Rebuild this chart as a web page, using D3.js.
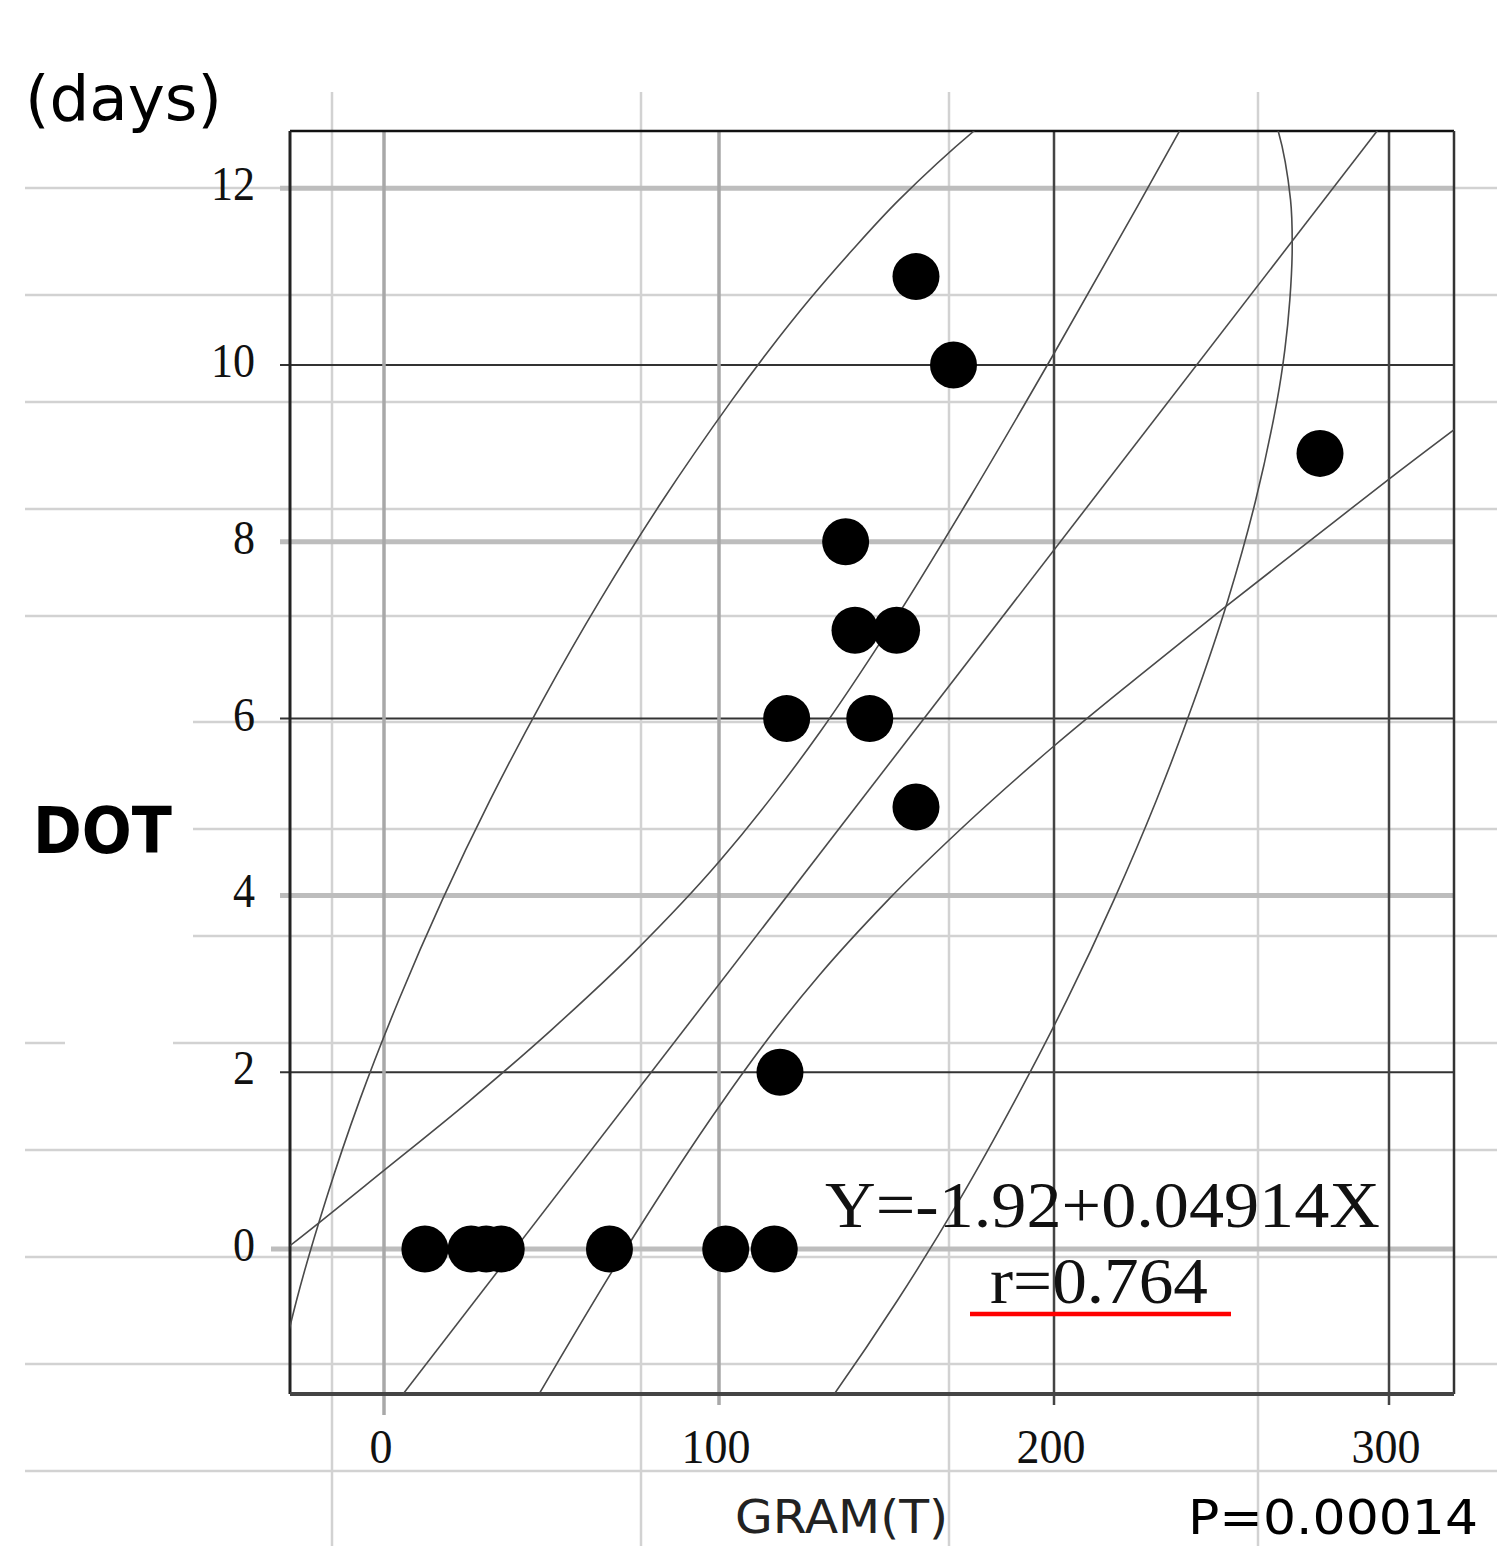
<!DOCTYPE html>
<html>
<head>
<meta charset="utf-8">
<script src="https://cdn.jsdelivr.net/npm/d3@7"></script>
<style>
  html, body { margin: 0; padding: 0; background: #fff; }
  svg { display: block; }
</style>
</head>
<body>
<svg id="chart" width="1497" height="1546"></svg>
<script>
// values
const xTicks = [0, 100, 200, 300];
const yTicks = [0, 2, 4, 6, 8, 10, 12];
const gram = [12.2, 26, 30.5, 35, 67.3, 102, 116.5, 118.2, 120.2, 145, 158.8, 140.6, 153, 137.8, 279.4, 170, 158.8];
const dot  = [0, 0, 0, 0, 0, 0, 0, 2, 6, 6, 5, 7, 7, 8, 9, 10, 11];
const fit = [-1.92, 0.04914];   // intercept, slope
const rValue = 0.764;
const pValue = "0.00014";

// confidence band of the fitted line (traced)
const bandX     = [-40, -28, 0, 25, 50, 75, 100, 116.3, 130, 150, 175, 200, 225, 250, 275, 300, 330];
const bandUpper = [-0.31, 0.04, 0.89, 1.66, 2.48, 3.37, 4.38, 5.14, 5.84, 6.97, 8.51, 10.13, 11.80, 13.50, 15.21, 16.94, 19.02];
const bandLower = [-7.46, -6.63, -4.73, -3.05, -1.40, 0.17, 1.61, 2.46, 3.10, 3.93, 4.85, 5.69, 6.47, 7.23, 7.97, 8.71, 9.57];

// ellipse (traced), two arcs sharing the same Y samples
const ellY      = [13.0, 12.65, 11.87, 11.30, 10.74, 10.17, 9.60, 8.47, 7.34, 6.21, 5.08, 3.95, 2.82, 1.69, 0.55, -0.58, -1.71, -2.27];
const ellRightX = [263.2, 266.9, 270.6, 271.1, 270.4, 268.9, 266.6, 260.2, 251.9, 241.9, 230.6, 217.9, 203.9, 188.5, 171.7, 153.3, 133.1, 122.1];
const ellLeftX  = [188.2, 176.2, 153.8, 139.8, 127.0, 115.0, 103.8, 83.2, 64.5, 47.4, 31.7, 17.4, 4.45, -7.2, -17.4, -26.1, -32.9, -35.4];

const svg = d3.select("#chart");
const W = 1497, H = 1546;
const plot = {left: 290, right: 1454, top: 131, bottom: 1394};

const x = d3.scaleLinear().domain([-28.06, 319.40]).range([plot.left, plot.right]);
const y = d3.scaleLinear().domain([-1.64, 12.647]).range([plot.bottom, plot.top]);

// spreadsheet grid behind the pasted chart
const pageRows = [188, 295, 402, 509, 616, 722, 829, 936, 1043, 1150, 1257, 1364, 1471];
const pageCols = [332, 641, 949, 1258];
const page = svg.append("g").attr("stroke", "#d2d2d2").attr("stroke-width", 2.5);
pageRows.forEach(r => {
  let segs = [[25, W]];
  if (r === 722 || r === 829 || r === 936) segs = [[193, W]];
  if (r === 1043) segs = [[25, 65], [173, W]];
  segs.forEach(s => page.append("line").attr("x1", s[0]).attr("x2", s[1]).attr("y1", r).attr("y2", r));
});
pageCols.forEach(c => page.append("line").attr("x1", c).attr("x2", c).attr("y1", 92).attr("y2", H));

// chart grid
const grid = svg.append("g");
grid.selectAll("line.h")
  .data(yTicks)
  .join("line")
  .attr("class", "h")
  .attr("x1", d => d === 0 ? 271 : 280)
  .attr("x2", plot.right)
  .attr("y1", d => y(d)).attr("y2", d => y(d))
  .attr("stroke", d => d % 4 === 0 ? "#bdbdbd" : "#333")
  .attr("stroke-width", d => d % 4 === 0 ? 5 : 2);

grid.selectAll("line.v")
  .data(xTicks)
  .join("line")
  .attr("class", "v")
  .attr("x1", d => x(d)).attr("x2", d => x(d))
  .attr("y1", plot.top)
  .attr("y2", d => d === 0 ? 1415 : 1405)
  .attr("stroke", d => d < 200 ? "#a8a8a8" : "#444")
  .attr("stroke-width", d => d < 200 ? 3.5 : 2.5);

// frame
svg.append("line").attr("x1", plot.left).attr("x2", plot.right).attr("y1", plot.top).attr("y2", plot.top)
  .attr("stroke", "#111").attr("stroke-width", 2.5);
svg.append("line").attr("x1", plot.left).attr("x2", plot.left).attr("y1", plot.top).attr("y2", plot.bottom)
  .attr("stroke", "#222").attr("stroke-width", 3);
svg.append("line").attr("x1", plot.right).attr("x2", plot.right).attr("y1", plot.top).attr("y2", plot.bottom)
  .attr("stroke", "#333").attr("stroke-width", 2.5);
svg.append("line").attr("x1", plot.left).attr("x2", plot.right).attr("y1", plot.bottom).attr("y2", plot.bottom)
  .attr("stroke", "#444").attr("stroke-width", 4);

// clip for the curves
svg.append("clipPath").attr("id", "clip")
  .append("rect")
  .attr("x", plot.left).attr("y", plot.top)
  .attr("width", plot.right - plot.left).attr("height", plot.bottom - plot.top);

const curves = svg.append("g").attr("clip-path", "url(#clip)")
  .attr("fill", "none").attr("stroke", "#4a4a4a").attr("stroke-width", 1.6);

const bandLine = d3.line().curve(d3.curveMonotoneX).x(d => x(d[0])).y(d => y(d[1]));
curves.append("path").attr("d", bandLine(bandX.map((v, i) => [v, bandUpper[i]])));
curves.append("path").attr("d", bandLine(bandX.map((v, i) => [v, bandLower[i]])));

// fitted line
const xDom = x.domain();
curves.append("path").attr("d", bandLine(xDom.map(v => [v, fit[0] + fit[1] * v])));

const ellLine = d3.line().curve(d3.curveCatmullRom).x(d => x(d[0])).y(d => y(d[1]));
curves.append("path").attr("d", ellLine(ellY.map((v, i) => [ellRightX[i], v])));
curves.append("path").attr("d", ellLine(ellY.map((v, i) => [ellLeftX[i], v])));

// points
svg.append("g")
  .selectAll("circle")
  .data(gram.map((g, i) => [g, dot[i]]))
  .join("circle")
  .attr("cx", d => x(d[0]))
  .attr("cy", d => y(d[1]))
  .attr("r", 23.5)
  .attr("fill", "#000");

// tick labels
const serif = "'Liberation Serif', 'DejaVu Serif', serif";
svg.append("g")
  .selectAll("text")
  .data(yTicks)
  .join("text")
  .attr("x", 255)
  .attr("y", d => y(d) + 12)
  .attr("text-anchor", "end")
  .attr("font-family", serif)
  .attr("font-size", 49)
  .attr("textLength", d => String(d).length * 22)
  .attr("lengthAdjust", "spacingAndGlyphs")
  .attr("fill", "#111")
  .text(d => d);

svg.append("g")
  .selectAll("text")
  .data(xTicks)
  .join("text")
  .attr("x", d => x(d) - 3)
  .attr("y", 1463)
  .attr("text-anchor", "middle")
  .attr("font-family", serif)
  .attr("font-size", 49)
  .attr("textLength", d => String(d).length * 23)
  .attr("lengthAdjust", "spacingAndGlyphs")
  .attr("fill", "#111")
  .text(d => d);

// labels
const sans = "'DejaVu Sans', Verdana, sans-serif";
function label(txt, px, py, size, len, opts = {}) {
  return svg.append("text")
    .attr("x", px).attr("y", py)
    .attr("font-family", opts.family || sans)
    .attr("font-size", size)
    .attr("font-weight", opts.weight || "normal")
    .attr("textLength", len)
    .attr("lengthAdjust", "spacingAndGlyphs")
    .attr("fill", opts.fill || "#000")
    .text(txt);
}
label("(days)", 25, 120, 62, 197);
label("DOT", 33, 853, 64, 139, {weight: "bold"});
label("GRAM(T)", 735, 1533, 46, 213, {fill: "#222"});
label("P=" + pValue, 1188, 1534, 48, 290);
label("Y=" + fit[0] + "+" + fit[1] + "X", 825, 1227, 66, 555, {family: serif, fill: "#111"});
label("r=" + rValue, 990, 1303, 66, 218, {family: serif, fill: "#111"});

svg.append("line")
  .attr("x1", 970).attr("x2", 1231)
  .attr("y1", 1314).attr("y2", 1314)
  .attr("stroke", "#f00").attr("stroke-width", 4.5);
</script>
</body>
</html>
